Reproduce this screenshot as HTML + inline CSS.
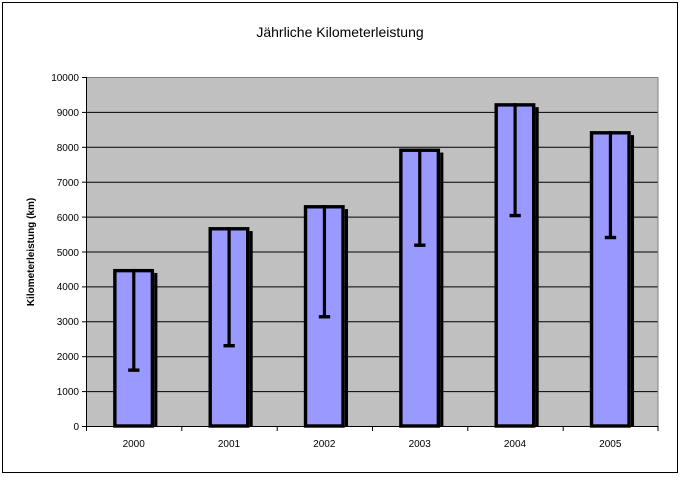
<!DOCTYPE html>
<html><head><style>body{margin:0;background:#fff}</style></head><body>
<svg width="680" height="476" xmlns="http://www.w3.org/2000/svg" font-family="Liberation Sans, sans-serif">
<rect x="0" y="0" width="680" height="476" fill="#fff"/>
<rect x="2.5" y="2.5" width="675" height="470" fill="#fff" stroke="#000" stroke-width="1"/>
<text x="340" y="37" font-size="14" text-anchor="middle">Jährliche Kilometerleistung</text>
<rect x="86" y="77" width="572" height="349" fill="#c0c0c0"/>
<g stroke="#000" stroke-width="1">
<line x1="86" y1="112.4" x2="658" y2="112.4"/><line x1="86" y1="147.3" x2="658" y2="147.3"/>
<line x1="86" y1="182.2" x2="658" y2="182.2"/><line x1="86" y1="217.1" x2="658" y2="217.1"/>
<line x1="86" y1="252" x2="658" y2="252"/><line x1="86" y1="286.9" x2="658" y2="286.9"/>
<line x1="86" y1="321.8" x2="658" y2="321.8"/><line x1="86" y1="356.7" x2="658" y2="356.7"/>
<line x1="86" y1="391.6" x2="658" y2="391.6"/>
</g>
<line x1="86" y1="77.5" x2="658" y2="77.5" stroke="#808080"/>
<line x1="658" y1="77" x2="658" y2="426" stroke="#808080"/>
<g stroke="#000" stroke-width="3.4" fill="#9999ff">
<rect x="114.87" y="270.65" width="37.5" height="155.35"/>
<rect x="210.2" y="228.77" width="37.5" height="197.23"/>
<rect x="305.53" y="206.78" width="37.5" height="219.22"/>
<rect x="400.87" y="150.25" width="37.5" height="275.75"/>
<rect x="496.2" y="104.88" width="37.5" height="321.12"/>
<rect x="591.53" y="132.8" width="37.5" height="293.2"/>
</g>
<g fill="#000">
<rect x="154.17" y="272.95" width="3.2" height="153.05"/>
<rect x="249.5" y="231.07" width="3.2" height="194.93"/>
<rect x="344.83" y="209.08" width="3.2" height="216.92"/>
<rect x="440.17" y="152.55" width="3.2" height="273.45"/>
<rect x="535.5" y="107.18" width="3.2" height="318.82"/>
<rect x="630.83" y="135.1" width="3.2" height="290.9"/>
<rect x="132.17" y="268.95" width="3.2" height="101.21"/><rect x="128.17" y="368.46" width="11.3" height="3.4"/>
<rect x="227.5" y="227.07" width="3.2" height="118.66"/><rect x="223.5" y="344.03" width="11.3" height="3.4"/>
<rect x="322.83" y="205.08" width="3.2" height="111.68"/><rect x="318.83" y="315.06" width="11.3" height="3.4"/>
<rect x="418.17" y="148.55" width="3.2" height="96.67"/><rect x="414.17" y="243.52" width="11.3" height="3.4"/>
<rect x="513.5" y="103.18" width="3.2" height="112.37"/><rect x="509.5" y="213.85" width="11.3" height="3.4"/>
<rect x="608.83" y="131.1" width="3.2" height="106.44"/><rect x="604.83" y="235.84" width="11.3" height="3.4"/>
</g>
<g stroke="#000" stroke-width="1">
<line x1="86.5" y1="77" x2="86.5" y2="426"/>
<line x1="86" y1="426.5" x2="658" y2="426.5"/>
<line x1="82" y1="426.5" x2="86" y2="426.5"/><line x1="82" y1="391.6" x2="86" y2="391.6"/>
<line x1="82" y1="356.7" x2="86" y2="356.7"/><line x1="82" y1="321.8" x2="86" y2="321.8"/>
<line x1="82" y1="286.9" x2="86" y2="286.9"/><line x1="82" y1="252" x2="86" y2="252"/>
<line x1="82" y1="217.1" x2="86" y2="217.1"/><line x1="82" y1="182.2" x2="86" y2="182.2"/>
<line x1="82" y1="147.3" x2="86" y2="147.3"/><line x1="82" y1="112.4" x2="86" y2="112.4"/>
<line x1="82" y1="77.5" x2="86" y2="77.5"/>
<line x1="86.5" y1="426" x2="86.5" y2="431"/><line x1="181.8" y1="426" x2="181.8" y2="431"/>
<line x1="277.2" y1="426" x2="277.2" y2="431"/><line x1="372.5" y1="426" x2="372.5" y2="431"/>
<line x1="467.8" y1="426" x2="467.8" y2="431"/><line x1="563.2" y1="426" x2="563.2" y2="431"/>
<line x1="658" y1="426" x2="658" y2="431"/>
</g>
<g font-size="10" text-anchor="end">
<text x="79" y="430">0</text><text x="79" y="395">1000</text><text x="79" y="360">2000</text>
<text x="79" y="325">3000</text><text x="79" y="290">4000</text><text x="79" y="256">5000</text>
<text x="79" y="221">6000</text><text x="79" y="186">7000</text><text x="79" y="151">8000</text>
<text x="79" y="116">9000</text><text x="79" y="81">10000</text>
</g>
<g font-size="10" text-anchor="middle">
<text x="133.7" y="447">2000</text><text x="229" y="447">2001</text><text x="324.3" y="447">2002</text>
<text x="419.7" y="447">2003</text><text x="515" y="447">2004</text><text x="610.3" y="447">2005</text>
</g>
<text transform="translate(34,252) rotate(-90)" font-size="10" font-weight="bold" text-anchor="middle">Kilometerleistung (km)</text>
</svg>
</body></html>
